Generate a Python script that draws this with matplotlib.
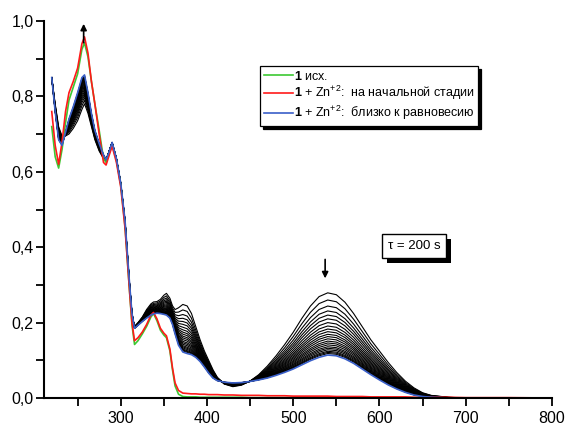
import numpy as np
import matplotlib
matplotlib.use("Agg")
import matplotlib.pyplot as plt
from matplotlib.ticker import MultipleLocator, FuncFormatter
import matplotlib.patheffects as pe

plt.rcParams['font.family'] = ['Liberation Sans', 'DejaVu Sans']
plt.rcParams['mathtext.fontset'] = 'custom'
plt.rcParams['mathtext.rm'] = 'Liberation Sans'
plt.rcParams['mathtext.bf'] = 'Liberation Sans:bold'

# wavelength grid, nm
wl = [220, 224, 228, 232, 236, 240, 245, 250, 255, 258, 262, 266, 270, 275, 280,
      283, 286, 290, 295, 300, 305, 310, 313, 316, 320, 325, 330, 335, 338, 342,
      346, 350, 353, 357, 360, 363, 367, 372, 377, 382, 387, 392, 397, 402, 407,
      412, 420, 430, 440, 450, 460, 470, 480, 490, 500, 510, 520, 530, 540, 550,
      560, 570, 580, 590, 600, 610, 620, 630, 640, 650, 660, 680, 700, 750, 800]

# 1 (initial)
green = [0.72, 0.64, 0.61, 0.66, 0.73, 0.79, 0.825, 0.86, 0.925, 0.942, 0.905, 0.84, 0.78, 0.71, 0.635,
         0.625, 0.645, 0.673, 0.63, 0.565, 0.455, 0.29, 0.195, 0.142, 0.152, 0.17, 0.19, 0.215, 0.224, 0.205,
         0.18, 0.167, 0.16, 0.125, 0.075, 0.032, 0.01, 0.004, 0.003, 0.003, 0.003, 0.002, 0.002, 0.002, 0.002,
         0.002, 0.002, 0.002, 0.002, 0.001, 0.001, 0.001, 0.001, 0.001, 0.001, 0.001, 0.001, 0.001, 0.001, 0.001,
         0.001, 0.001, 0.001, 0.001, 0.001, 0.001, 0.001, 0.001, 0.001, 0.001, 0.0, 0.0, 0.0, 0.0, 0.0]

# 1 + Zn, initial stage
red = [0.76, 0.67, 0.62, 0.68, 0.76, 0.81, 0.84, 0.875, 0.94, 0.958, 0.915, 0.84, 0.78, 0.70, 0.625,
       0.618, 0.64, 0.668, 0.625, 0.56, 0.45, 0.29, 0.2, 0.152, 0.16, 0.175, 0.195, 0.22, 0.227, 0.21,
       0.185, 0.172, 0.165, 0.13, 0.08, 0.04, 0.02, 0.013, 0.012, 0.011, 0.011, 0.010, 0.010, 0.009, 0.009,
       0.009, 0.008, 0.008, 0.007, 0.007, 0.007, 0.006, 0.006, 0.006, 0.005, 0.005, 0.005, 0.005, 0.005, 0.004,
       0.004, 0.004, 0.004, 0.003, 0.003, 0.003, 0.003, 0.003, 0.002, 0.002, 0.002, 0.002, 0.001, 0.001, 0.0]

# first kinetic trace (black, top at 540 nm)
first = [0.85, 0.78, 0.72, 0.695, 0.695, 0.70, 0.715, 0.735, 0.765, 0.78, 0.755, 0.72, 0.685, 0.655, 0.635,
         0.63, 0.65, 0.676, 0.632, 0.567, 0.462, 0.30, 0.22, 0.19, 0.20, 0.215, 0.235, 0.25, 0.255, 0.256,
         0.262, 0.273, 0.278, 0.265, 0.245, 0.235, 0.24, 0.249, 0.245, 0.225, 0.19, 0.155, 0.125, 0.10, 0.075,
         0.055, 0.037, 0.030, 0.034, 0.045, 0.062, 0.085, 0.112, 0.142, 0.175, 0.212, 0.245, 0.270, 0.280, 0.275,
         0.255, 0.225, 0.19, 0.155, 0.125, 0.095, 0.068, 0.045, 0.027, 0.014, 0.007, 0.002, 0.0, 0.0, 0.0]

# 1 + Zn, near equilibrium
blue = [0.85, 0.76, 0.685, 0.67, 0.705, 0.74, 0.773, 0.81, 0.85, 0.857, 0.81, 0.755, 0.71, 0.675, 0.645,
        0.632, 0.65, 0.678, 0.635, 0.57, 0.47, 0.31, 0.225, 0.185, 0.193, 0.203, 0.212, 0.22, 0.223, 0.225,
        0.224, 0.222, 0.22, 0.212, 0.195, 0.17, 0.14, 0.122, 0.118, 0.115, 0.108, 0.097, 0.082, 0.066, 0.053,
        0.046, 0.042, 0.040, 0.041, 0.044, 0.048, 0.053, 0.060, 0.068, 0.077, 0.088, 0.099, 0.108, 0.114, 0.112,
        0.104, 0.092, 0.077, 0.062, 0.048, 0.035, 0.024, 0.015, 0.008, 0.004, 0.002, 0.0, 0.0, 0.0, 0.0]

# band maximum at 540 nm of each black trace
peak540 = [0.279, 0.260, 0.244, 0.231, 0.220, 0.210, 0.200, 0.191, 0.183, 0.176, 0.169,
           0.163, 0.157, 0.151, 0.146, 0.141, 0.136, 0.132, 0.128, 0.124, 0.121, 0.118]

wl = np.array(wl)
first = np.array(first)
blue = np.array(blue)
i540 = list(wl).index(540)

fig = plt.figure(figsize=(5.66, 4.25), dpi=100)
ax = fig.add_axes([0.0777, 0.0635, 0.8975, 0.887])

for h in peak540:
    f = (h - blue[i540]) / (first[i540] - blue[i540])
    ax.plot(wl, blue + f * (first - blue), color='black', lw=0.8)

ax.plot(wl, green, color='#3cc832', lw=1.2, label=r'$\mathbf{1}$ исх.')
ax.plot(wl, red, color='#ff1a1a', lw=1.2, label=r'$\mathbf{1}$ + Zn$^{+2}$:  на начальной стадии')
ax.plot(wl, blue, color='#3a5fc8', lw=1.2, label=r'$\mathbf{1}$ + Zn$^{+2}$:  близко к равновесию')

ax.annotate('', xy=(257, 1.0), xytext=(257, 0.935),
            arrowprops=dict(arrowstyle='-|>', color='black', lw=1.2, mutation_scale=9))
ax.annotate('', xy=(537, 0.31), xytext=(537, 0.375),
            arrowprops=dict(arrowstyle='-|>', color='black', lw=1.2, mutation_scale=9))

t = ax.text(640, 0.403, 'τ = 200 s', fontsize=9.5, ha='center', va='center',
            bbox=dict(boxstyle='square,pad=0.45', fc='white', ec='black', lw=1))
t.get_bbox_patch().set_path_effects([
    pe.SimplePatchShadow(offset=(3.5, -3.5), shadow_rgbFace='black', alpha=1), pe.Normal()])

leg = ax.legend(loc='upper left', bbox_to_anchor=(260 / 566, 1 - 66 / 425),
                bbox_transform=fig.transFigure, borderaxespad=0, fontsize=9,
                frameon=True, fancybox=False, edgecolor='black', framealpha=1,
                handlelength=2.3, handletextpad=0.1, labelspacing=0.12,
                borderpad=0.3, shadow=dict(facecolor='black', edgecolor='black', alpha=1))
leg.get_frame().set_linewidth(0.9)

ax.set_xlim(211, 800)
ax.set_ylim(0, 1.0)
ax.xaxis.set_major_locator(MultipleLocator(100))
ax.xaxis.set_minor_locator(MultipleLocator(50))
ax.yaxis.set_major_locator(MultipleLocator(0.2))
ax.yaxis.set_minor_locator(MultipleLocator(0.1))
ax.yaxis.set_major_formatter(FuncFormatter(lambda v, p: f"{v:.1f}".replace('.', ',')))
ax.xaxis.set_major_formatter(FuncFormatter(lambda v, p: f"{v:.0f}" if v >= 300 else ''))

for s in ['top', 'right']:
    ax.spines[s].set_visible(False)
for s in ['left', 'bottom']:
    ax.spines[s].set_linewidth(1.5)
ax.tick_params(which='both', direction='out', width=1.3, labelsize=11.5)
ax.tick_params(which='major', length=5.5)
ax.tick_params(which='minor', length=5.5)
ax.tick_params(axis='y', pad=2)
ax.tick_params(axis='x', pad=3.5)

fig.savefig('out.png', dpi=100)
